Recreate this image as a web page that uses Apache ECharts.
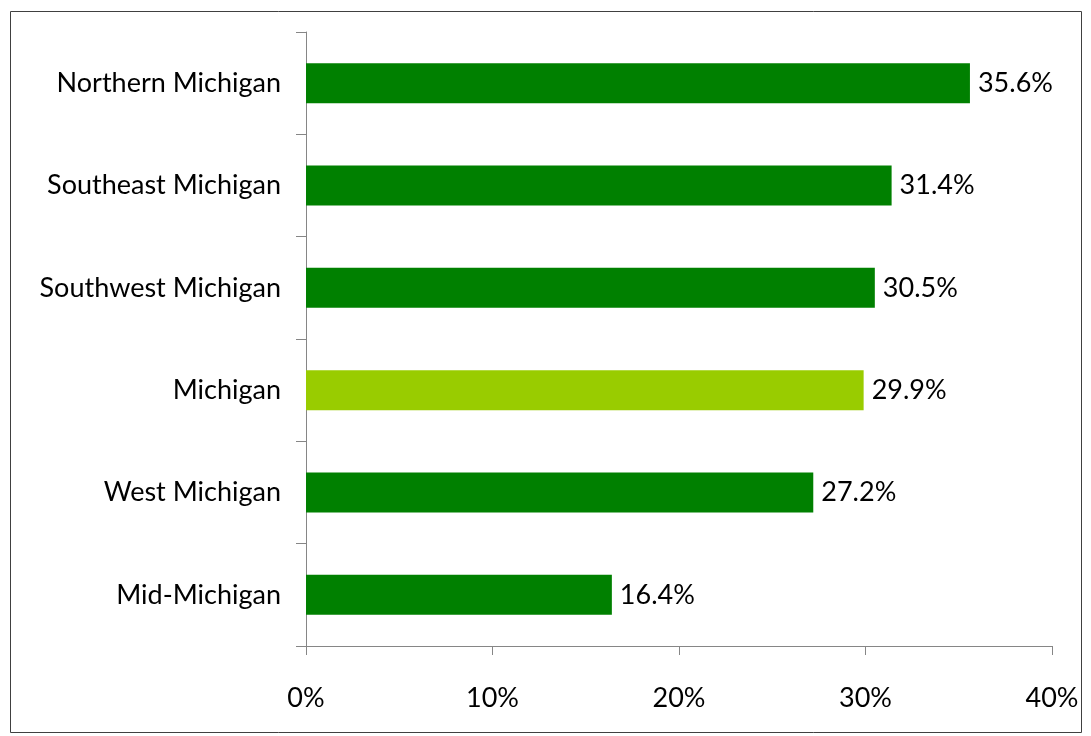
<!DOCTYPE html>
<html>
<head>
<meta charset="utf-8">
<script src="https://cdn.jsdelivr.net/npm/echarts@6/dist/echarts.min.js"></script>
<style>
  html, body { margin: 0; padding: 0; background: #fff; }
  #chart { width: 1091px; height: 736px; }
</style>
</head>
<body>
<div id="chart"></div>
<script>
  // categories listed bottom to top (category axis on y starts at the bottom)
  var regions = ['Mid-Michigan', 'West Michigan', 'Michigan', 'Southwest Michigan', 'Southeast Michigan', 'Northern Michigan'];
  var shares = [16.4, 27.2, 29.9, 30.5, 31.4, 35.6];
  var highlight = 'Michigan';
  var xTicks = [0, 10, 20, 30, 40];

  var chart = echarts.init(document.getElementById('chart'));

  var fontFamily = 'Lato, "Open Sans", sans-serif';
  var fontSize = 27;

  var option = {
    animation: false,
    graphic: [{
      type: 'rect',
      shape: { x: 10.5, y: 11.5, width: 1071, height: 721 },
      style: { fill: 'none', stroke: '#404040', lineWidth: 1 },
      silent: true
    }],
    grid: {
      left: 306,
      right: 39,
      top: 32,
      bottom: 90
    },
    xAxis: {
      type: 'value',
      min: xTicks[0],
      max: xTicks[xTicks.length - 1],
      interval: 10,
      splitLine: { show: false },
      axisLine: { show: true, lineStyle: { color: '#868686' } },
      axisTick: { show: true, length: 9, inside: false, lineStyle: { color: '#868686' } },
      axisLabel: {
        margin: 39,
        color: '#000',
        fontSize: fontSize,
        fontFamily: fontFamily,
        formatter: function (v) { return v + '%'; }
      }
    },
    yAxis: {
      type: 'category',
      data: regions,
      axisLine: { show: true, lineStyle: { color: '#868686' } },
      axisTick: { show: true, length: 10, lineStyle: { color: '#868686' } },
      axisLabel: {
        margin: 25,
        color: '#000',
        fontSize: fontSize,
        fontFamily: fontFamily
      }
    },
    series: [{
      type: 'bar',
      barWidth: 40,
      data: shares.map(function (v, i) {
        return {
          value: v,
          itemStyle: { color: regions[i] === highlight ? '#99cc00' : '#008000' }
        };
      }),
      label: {
        show: true,
        position: 'right',
        distance: 8,
        color: '#000',
        fontSize: fontSize,
        fontFamily: fontFamily,
        formatter: function (p) { return p.value.toFixed(1) + '%'; }
      }
    }]
  };

  chart.setOption(option);
</script>
</body>
</html>
